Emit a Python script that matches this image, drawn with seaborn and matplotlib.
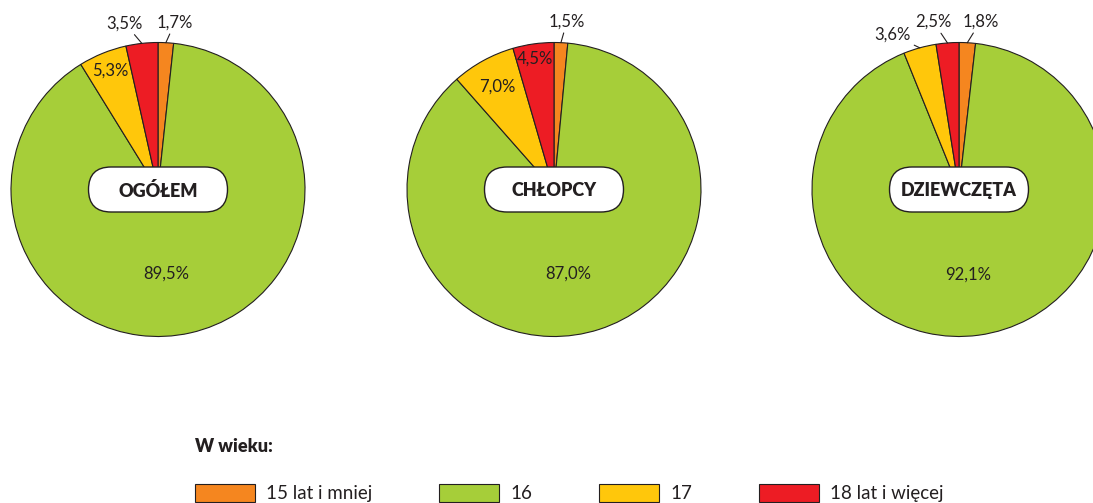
import numpy as np
import seaborn as sns
import matplotlib.pyplot as plt
from matplotlib.patches import FancyBboxPatch, Patch

# data
groups = ["OGÓŁEM", "CHŁOPCY", "DZIEWCZĘTA"]
age_labels = ["15 lat i mniej", "16", "17", "18 lat i więcej"]
ogolem = [1.7, 89.5, 5.3, 3.5]
chlopcy = [1.5, 87.0, 7.0, 4.5]
dziewczeta = [1.8, 92.1, 3.6, 2.5]
legend_title = "W wieku:"

# layout (pixels) and label placement per wedge
W, H = 1093, 503
R = 147
centers = [(158, 189.5), (554, 189.5), (959, 189.5)]
label_layout = [
    [("out", 9, 20), ("at", 0.055, -0.57), ("in", 0.87), ("out", -17, 20)],
    [("out", 6, 21), ("at", 0.095, -0.57), ("in", 0.80), ("in", 0.90)],
    [("out", 13, 21), ("at", 0.06, -0.58), ("out", -27, 13), ("out", -14, 21)],
]

INK = "#231F20"
palette = sns.color_palette(["#F5861F", "#A6CE39", "#FFC70B", "#ED1C24"])


def fmt(v):
    return f"{v:.1f}".replace(".", ",") + "%"


def draw_pie(fig, values, name, center, layout):
    cx, cy = center
    ax = fig.add_axes([(cx - R) / W, (H - cy - R) / H, 2 * R / W, 2 * R / H])
    wedges, _ = ax.pie(values, colors=palette, startangle=90, counterclock=False,
                       wedgeprops=dict(edgecolor=INK, linewidth=0.8))
    ax.set_xlim(-1, 1)
    ax.set_ylim(-1, 1)
    ax.set_aspect("equal")
    ax.axis("off")

    for w, v, lay in zip(wedges, values, layout):
        ang = np.deg2rad((w.theta1 + w.theta2) / 2)
        ux, uy = np.cos(ang), np.sin(ang)
        if lay[0] == "out":
            ax.annotate(fmt(v), xy=(ux, uy), xytext=(lay[1], lay[2]),
                        textcoords="offset pixels", ha="center", va="center",
                        fontsize=12, color=INK, annotation_clip=False,
                        arrowprops=dict(arrowstyle="-", color=INK, lw=0.8,
                                        shrinkA=0, shrinkB=0))
        elif lay[0] == "in":
            ax.text(ux * lay[1], uy * lay[1], fmt(v), ha="center", va="center",
                    fontsize=12, color=INK)
        else:
            ax.text(lay[1], lay[2], fmt(v), ha="center", va="center",
                    fontsize=12, color=INK)

    # rounded name box in the middle of the pie
    bw, bh = 139 / R, 45 / R
    box = FancyBboxPatch((-bw / 2, -bh / 2), bw, bh,
                         boxstyle=f"round,pad=0,rounding_size={bh / 2}",
                         facecolor="white", edgecolor=INK, linewidth=1.0, zorder=3)
    ax.add_patch(box)
    ax.text(0, -0.01, name, ha="center", va="center", fontsize=13,
            fontweight="heavy", color=INK, zorder=4)


def main():
    sns.set_theme(style="white")
    plt.rcParams["font.family"] = ["Lato", "DejaVu Sans"]

    fig = plt.figure(figsize=(W / 100, H / 100), dpi=100)
    for vals, name, c, lay in zip([ogolem, chlopcy, dziewczeta], groups, centers, label_layout):
        draw_pie(fig, vals, name, c, lay)

    fig.text(195 / W, 1 - 446 / H, legend_title, fontsize=13, fontweight="heavy",
             color=INK, ha="left", va="center")
    handles = [Patch(facecolor=c, edgecolor=INK, linewidth=0.8, label=l)
               for c, l in zip(palette, age_labels)]
    leg = fig.legend(handles=handles, ncol=4, loc="lower left",
                     bbox_to_anchor=(195 / W, 1 / H), frameon=False,
                     borderpad=0, borderaxespad=0, fontsize=13.5,
                     handlelength=3.2, handleheight=1.12, handletextpad=0.59,
                     columnspacing=3.57)
    for t in leg.get_texts():
        t.set_color(INK)

    fig.savefig("out.png", dpi=100)


if __name__ == "__main__":
    main()
